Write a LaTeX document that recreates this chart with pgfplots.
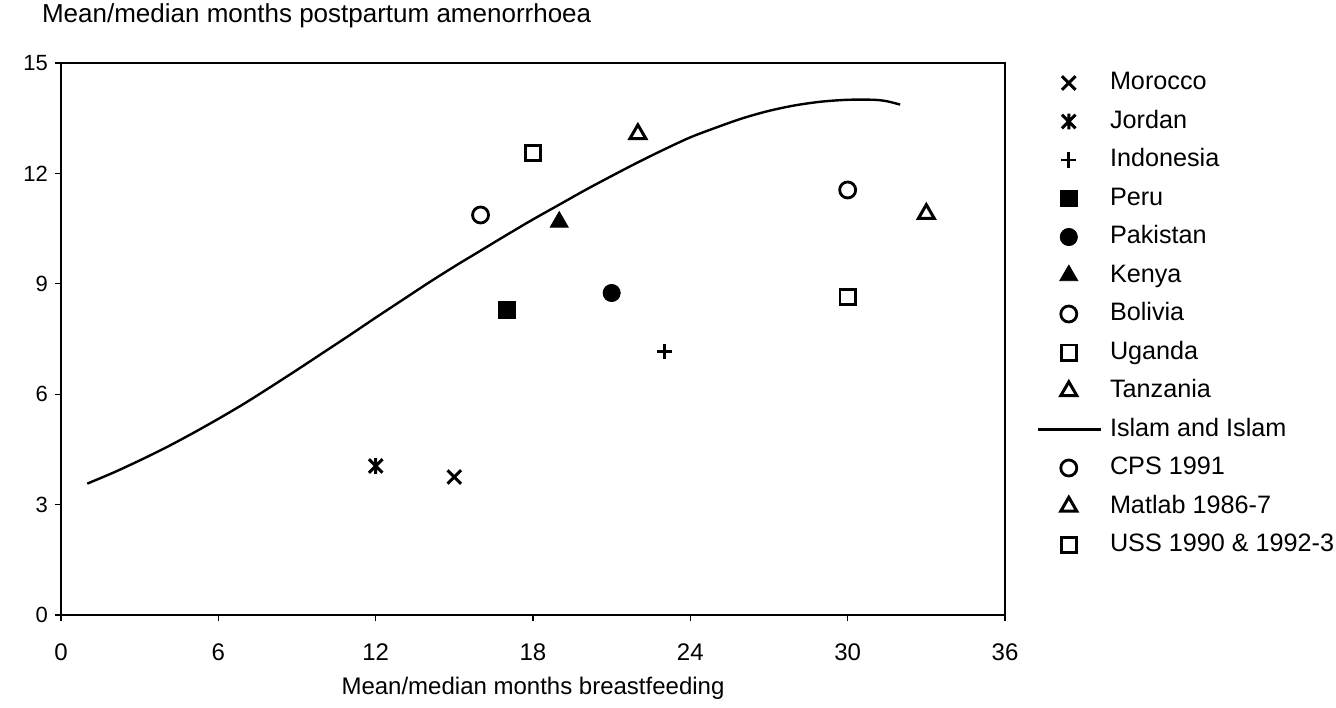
\documentclass[border=0pt]{standalone}
\usepackage{pgfplots}
\pgfplotsset{compat=1.18}
\usepackage{fontspec}
\setmainfont{Liberation Sans}

\pgfdeclareplotmark{xbar}{%
 \pgfpathmoveto{\pgfqpoint{-\pgfplotmarksize}{-\pgfplotmarksize}}%
 \pgfpathlineto{\pgfqpoint{\pgfplotmarksize}{\pgfplotmarksize}}%
 \pgfpathmoveto{\pgfqpoint{-\pgfplotmarksize}{\pgfplotmarksize}}%
 \pgfpathlineto{\pgfqpoint{\pgfplotmarksize}{-\pgfplotmarksize}}%
 \pgfpathmoveto{\pgfqpoint{0pt}{-1.15\pgfplotmarksize}}%
 \pgfpathlineto{\pgfqpoint{0pt}{1.15\pgfplotmarksize}}%
 \pgfusepathqstroke}

\pgfplotsset{
 markleg/.style={legend image code/.code={\draw[##1] plot coordinates {(0pt,0pt)};}},
 lineleg/.style={legend image code/.code={\draw[##1, overlay] (-15.5pt,0pt) -- (16pt,0pt); \path (-4pt,0pt) (4pt,0pt);}},
}

\pgfplotstableread{
x y
1 3.57
2 3.87
3 4.20
4 4.55
5 4.93
6 5.33
7 5.75
8 6.20
9 6.66
10 7.13
11 7.60
12 8.08
13 8.55
14 9.02
15 9.47
16 9.90
17 10.33
18 10.75
19 11.15
20 11.55
21 11.93
22 12.30
23 12.65
24 12.98
25 13.25
26 13.50
27 13.70
28 13.85
29 13.95
30 14.00
31 14.00
31.5 13.96
32 13.87
}\islam

\begin{document}
\begin{tikzpicture}
\begin{axis}[name=ax, scale only axis, width=472pt, height=276pt,
 xmin=0, xmax=36, ymin=0, ymax=15,
 xtick={0,6,...,36}, ytick={0,3,...,15},
 xtick pos=bottom, ytick pos=left,
 tick align=outside, major tick length=3pt,
 axis line style={line width=0.7pt},
 every tick/.style={black, line width=0.6pt},
 xticklabel style={font=\fontsize{12}{14}\selectfont, yshift=-8pt},
 yticklabel style={font=\fontsize{11}{13}\selectfont},
 /pgf/number format/assume math mode=true,
 xlabel={Mean/median months breastfeeding},
 xlabel style={font=\fontsize{12}{14}\selectfont, at={(axis description cs:0.5,0)}, anchor=center, yshift=-36.5pt},
 title={Mean/median months postpartum amenorrhoea},
 title style={font=\fontsize{13}{15}\selectfont, at={(axis description cs:0,1)}, anchor=west, xshift=-13pt, yshift=17.5pt},
 markleg,
 legend cell align=left,
 legend style={at={(1,1)}, anchor=north west, xshift=27.3pt, yshift=-4.25pt,
   draw=none, inner sep=0pt, outer sep=0pt, row sep=7.75pt,
   font=\fontsize{12.6}{15}\selectfont,
   nodes={inner sep=0pt, text height=9pt, text depth=2.5pt},
   /tikz/every odd column/.append style={column sep=16pt}},
]
\addplot[only marks, mark=x, mark size=4.8pt, line width=1.5pt] coordinates {(15,3.75)};
\addlegendentry{Morocco}
\addplot[only marks, mark=xbar, mark size=3.4pt, line width=1.5pt] coordinates {(12,4.05)};
\addlegendentry{Jordan}
\addplot[only marks, mark=+, mark size=3.8pt, line width=1.4pt] coordinates {(23,7.15)};
\addlegendentry{Indonesia}
\addplot[only marks, mark=square*, mark size=4.1pt] coordinates {(17,8.29)};
\addlegendentry{Peru}
\addplot[only marks, mark=*, mark size=4.3pt] coordinates {(21,8.75)};
\addlegendentry{Pakistan}
\addplot[only marks, mark=triangle*, mark size=5.2pt] coordinates {(19,10.68)};
\addlegendentry{Kenya}
\addplot[only marks, mark=o, mark size=4pt, line width=1.4pt] coordinates {(16,10.87)};
\addlegendentry{Bolivia}
\addplot[only marks, mark=square, mark size=3.8pt, line width=1.4pt] coordinates {(18,12.55)};
\addlegendentry{Uganda}
\addplot[only marks, mark=triangle, mark size=4.6pt, line width=1.5pt] coordinates {(22,13.07)};
\addlegendentry{Tanzania}
\addplot[no marks, line width=1.2pt, smooth, lineleg] table[x=x, y=y] {\islam};
\addlegendentry{Islam and Islam}
\addplot[only marks, mark=o, mark size=4pt, line width=1.4pt] coordinates {(30,11.55)};
\addlegendentry{CPS 1991}
\addplot[only marks, mark=triangle, mark size=4.6pt, line width=1.5pt] coordinates {(33,10.9)};
\addlegendentry{Matlab 1986-7}
\addplot[only marks, mark=square, mark size=3.8pt, line width=1.4pt] coordinates {(30,8.64)};
\addlegendentry{USS 1990 \& 1992-3}
\end{axis}
\pgfresetboundingbox
\path[use as bounding box] ([shift={(-30.5pt,-46pt)}]ax.south west) rectangle ([shift={(165.5pt,31.5pt)}]ax.north east);
\end{tikzpicture}
\end{document}
